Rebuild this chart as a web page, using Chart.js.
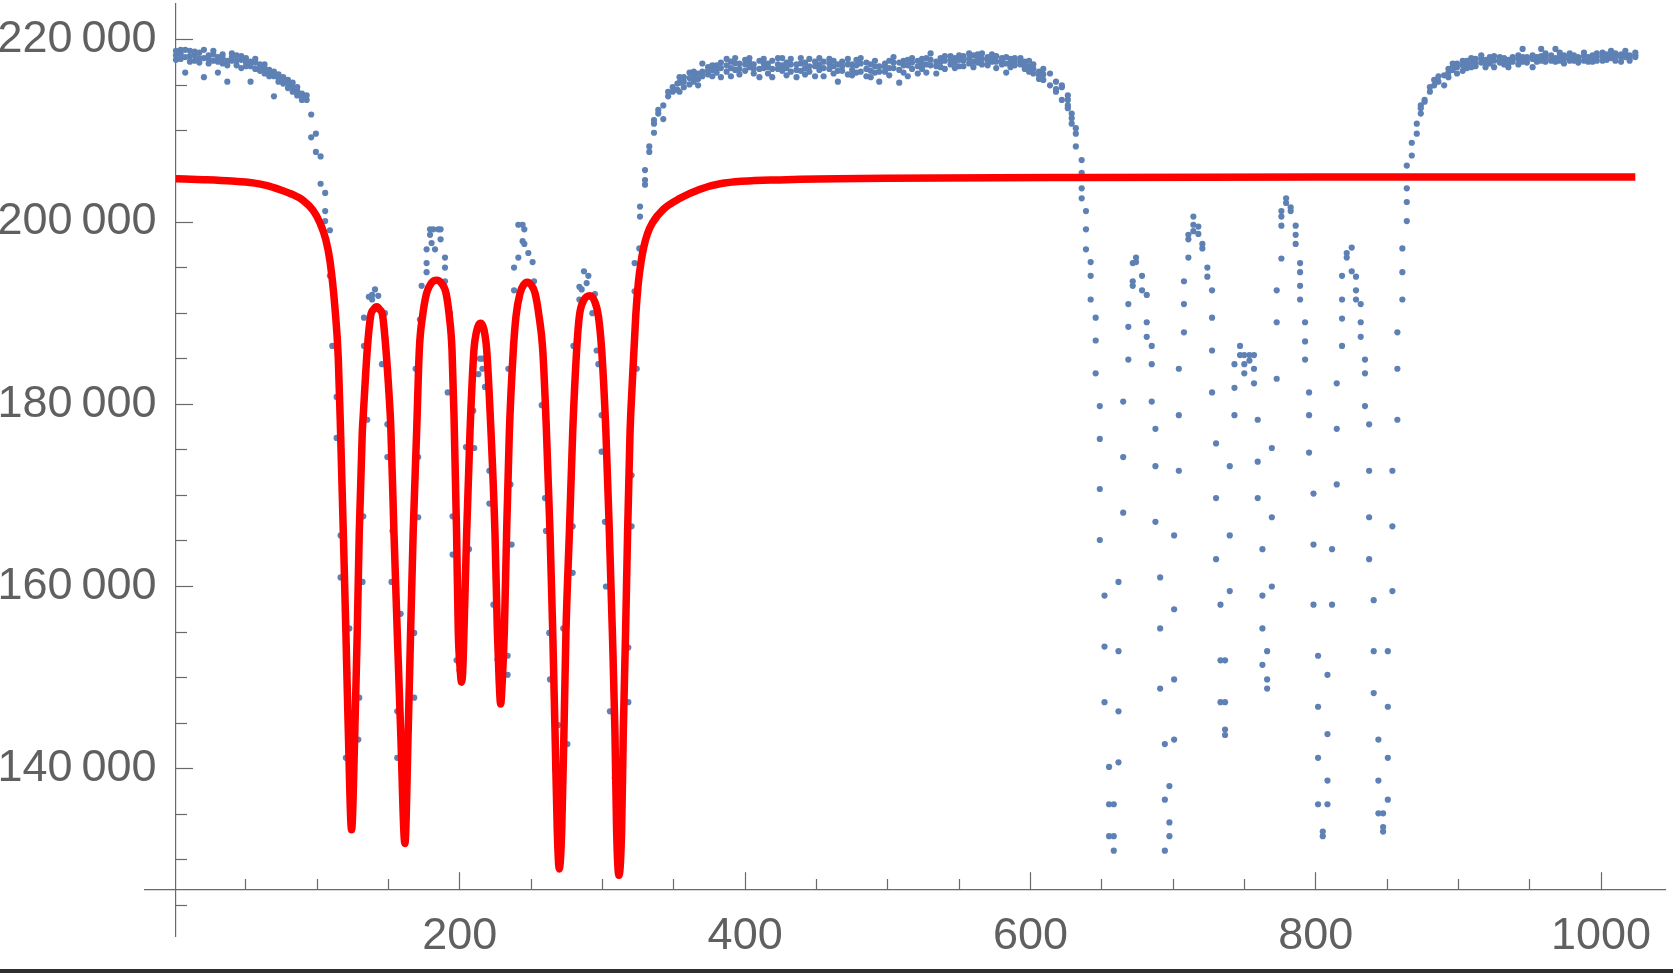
<!DOCTYPE html>
<html>
<head>
<meta charset="utf-8">
<script src="https://cdn.jsdelivr.net/npm/chart.js@4.4.1/dist/chart.umd.min.js"></script>
<style>
  html, body { margin: 0; padding: 0; background: #fff; }
  #wrap { position: relative; width: 1673px; height: 973px; overflow: hidden; }
  #bar { position: absolute; left: 0; bottom: 0; width: 1673px; height: 4px; background: #2f2f2f; }
</style>
</head>
<body>
<div id="wrap">
  <canvas id="plot" width="1673" height="973"></canvas>
  <div id="bar"></div>
</div>
<script>
// tick positions
const xTicks = [200, 400, 600, 800, 1000];
const xMinorTicks = [50, 100, 150, 250, 300, 350, 450, 500, 550, 650, 700, 750, 850, 900, 950];
const yTicks = [140000, 160000, 180000, 200000, 220000];
const yMinorTicks = [125000, 130000, 135000, 145000, 150000, 155000, 165000, 170000, 175000,
                     185000, 190000, 195000, 205000, 210000, 215000];

// measured points, one column per x: [x, y, y, ...]
const scanLeft = [
  [1.0, 218300, 218800, 217800], [4.3, 218500, 217900, 218900], [7.5, 218900, 218100, 216400],
  [10.8, 218800, 218200, 217600], [14.1, 218300, 217700, 218700], [17.4, 218600, 217500, 218000],
  [20.6, 218900, 218000, 215900], [23.9, 218300, 217400, 217900], [27.2, 218400, 217700, 218800],
  [30.4, 218100, 216400, 217600], [33.7, 218000, 217400, 218400], [37.0, 217700, 215400, 217200],
  [40.2, 218500, 217700, 218100], [43.5, 218300, 217200, 217700], [46.8, 217800, 216900, 218200],
  [50.1, 218000, 217100, 217500], [53.3, 217600, 215400, 217100], [56.6, 217500, 216800, 217900],
  [59.9, 217300, 216600, 216900], [63.1, 216900, 216300, 217300], [66.4, 216700, 216000, 216400],
  [69.7, 216500, 213800, 216000], [72.9, 216200, 215400, 215800], [76.2, 215900, 215200, 215500],
  [79.5, 215600, 214700, 215200], [82.8, 215300, 214300, 214800], [86.0, 214800, 213900, 214400],
  [89.3, 214100, 213400, 213800], [92.6, 213400, 213900], [95.8, 211800, 209300], [99.1, 209700, 207700],
  [102.4, 207200, 204200], [105.6, 203200, 201200, 200100], [108.9, 199100, 194100]
];

const dipsLeft = [
  [110.6, 186400], [113.6, 180800, 176300], [116.4, 165600, 161000], [120.1, 141200], [121.2, 150500],
  [122.5, 155400], [123.4, 137500], [124.4, 133800], [125.6, 139000], [128.8, 143200], [129.5, 147800],
  [131.8, 160500], [132.3, 167700], [132.8, 186400, 189500], [135.1, 178300], [136.2, 191800],
  [138.5, 191500, 192000], [140.5, 192600], [142.8, 191900], [145.4, 184400], [147.5, 190000],
  [149.2, 177800, 174200], [152.1, 160500], [152.8, 166100], [156.1, 146300, 141200], [158.5, 157000],
  [159.6, 137000], [161.3, 132300], [163.5, 141000], [168.0, 154900, 147800], [169.0, 183900],
  [170.8, 167600, 174200], [172.0, 189300], [173.2, 193000], [176.7, 194500, 195500, 197000],
  [179.1, 199200, 198600], [180.2, 197700], [181.4, 199200], [182.6, 197000], [184.9, 199200],
  [186.5, 199200, 198100], [189.6, 196100, 195000, 193500], [191.5, 181300], [193.1, 190000],
  [194.9, 167700, 163500], [197.7, 151900], [199.8, 150800], [202.6, 153500], [204.3, 175300],
  [206.4, 164100], [209.4, 179300], [210.1, 175200], [213.0, 183300], [214.1, 185000],
  [215.8, 183900, 185000], [217.6, 181900], [220.7, 172700, 169100], [223.5, 158000], [226.4, 152000],
  [228.6, 147800], [230.4, 151500], [233.5, 152400, 150300], [234.0, 183900], [235.5, 171200],
  [236.3, 164600], [238.0, 192500, 195000], [241.0, 199700, 196100], [244.0, 199700, 197900],
  [245.2, 199200, 197600], [248.0, 196600], [251.0, 195600], [252.0, 193500], [257.4, 179900],
  [259.7, 169700], [260.4, 166100], [262.7, 154900], [263.2, 149800], [266.7, 140000], [268.6, 131500],
  [269.0, 144800], [271.6, 135500], [272.5, 155400], [275.4, 142700], [279.1, 166600, 161500],
  [279.6, 186400], [283.8, 191500, 192900], [285.4, 192600], [287.0, 194600], [288.9, 193300],
  [290.1, 194100], [292.9, 190000], [294.7, 192100], [295.9, 185900], [297.1, 184400],
  [299.4, 178800, 174800], [301.7, 167100], [302.4, 160000], [305.2, 146300], [308.6, 139000],
  [311.5, 129000], [313.8, 137500], [318.1, 153300, 147300], [320.4, 166600, 172200],
  [322.5, 192400, 195500], [324.0, 183900], [325.8, 197100], [326.3, 200600, 201700],
  [329.8, 204100, 204600, 205700], [332.8, 207700, 208300], [336.1, 209800, 210800, 211200],
  [339.1, 211900, 212300], [342.6, 211300, 212800], [346.0, 213800, 214300], [349.2, 214300, 214800],
  [352.5, 214500, 215200]
];

const plateau = [
  [354, 215900, 214300, 215300], [357, 215900, 214800, 215400], [361, 216400, 215100, 215800],
  [364, 216500, 215400, 216000], [367, 216300, 215000, 215700], [370, 217400, 216500, 216000],
  [374, 217000, 216200, 216600], [377, 216700, 216000, 217200], [380, 217200, 216400, 216800],
  [383, 217500, 215900, 216900], [387, 217900, 216500, 217200], [390, 217600, 216900, 216000],
  [393, 218000, 216700, 217400], [396, 217400, 216200, 216800], [400, 217800, 216600, 217300],
  [403, 218000, 217000, 217500], [406, 217300, 216300, 216800], [410, 217700, 216800, 215900],
  [413, 217900, 216900, 217400], [416, 217400, 216300, 217000], [419, 217700, 215900, 216800],
  [423, 218000, 216800, 217300], [426, 218000, 217200, 216600], [429, 217500, 216100, 216900],
  [432, 217900, 216500, 217300], [436, 217300, 215900, 216700], [439, 218000, 216600, 217400],
  [442, 217500, 216200, 216900], [445, 217900, 217100, 216500], [449, 217600, 216000, 217100],
  [452, 218000, 216700, 217300], [455, 217600, 216000, 216900], [459, 217900, 216800, 217400],
  [462, 217700, 216300, 217100], [465, 217300, 215400, 216600], [468, 217600, 216600, 217100],
  [472, 217900, 216200, 217300], [475, 217300, 216700, 216100], [478, 217800, 216400, 217200],
  [481, 218000, 216500, 217400], [485, 217500, 216000, 216800], [488, 217300, 215900, 216600],
  [491, 217700, 216400, 217100], [494, 217100, 215400, 216500], [498, 217400, 216500, 217000],
  [501, 217700, 216100, 216900], [504, 218100, 216900, 217500], [508, 217500, 215300, 216700],
  [511, 217200, 216400, 217700], [514, 217800, 216000, 217200], [517, 217500, 216800, 218000],
  [521, 217700, 216300, 217100], [524, 217900, 216800, 217400], [527, 218000, 216400, 217300],
  [530, 218500, 217200, 217800], [534, 217600, 216300, 217100], [537, 218000, 217000, 217600],
  [540, 217700, 216800, 218200], [544, 218200, 217300, 217800], [547, 218000, 216900, 217500],
  [550, 217800, 217100, 218300], [553, 218200, 217100, 217700], [557, 218500, 217400, 217900],
  [560, 218300, 217000, 217600], [563, 218000, 217500, 218400], [566, 218500, 217300, 217900],
  [570, 218100, 217200, 217700], [573, 218400, 217600, 218000], [576, 218200, 216900, 217600],
  [580, 218000, 217300, 217700], [583, 218100, 216400, 217400], [586, 217900, 217000, 217500],
  [589, 218000, 217200, 217600], [593, 218000, 217300, 217700], [596, 217600, 216800, 217200],
  [599, 217700, 216500, 217100], [602, 217300, 216300, 216800], [606, 216500, 215700, 216100],
  [609, 216800, 215600, 216200]
];

const dipsRight = [
  [613.7, 216300, 215000], [617.9, 215400, 214600, 214300], [622.0, 215000, 214800, 213400],
  [626.2, 213900, 213400, 212800, 212500], [628.9, 211900, 211400, 210800], [631.8, 210300, 209700, 208300],
  [635.9, 206800, 205400, 203700, 202600], [638.9, 201200, 199200, 197000], [642.2, 195600, 194100, 191500],
  [645.7, 189500, 187000, 183400], [648.6, 179800, 176200, 170700, 165100], [651.9, 159000, 153400, 147300],
  [655.1, 140200, 136100, 132600], [658.4, 136100, 132600, 131000], [661.7, 140700, 146300, 152900, 160500],
  [665.0, 168100, 174200, 180300], [668.6, 184900, 188500, 191000], [671.7, 193000, 193500, 195500],
  [674.0, 195600, 196100], [678.2, 194100, 192500], [681.5, 192000, 189000, 187400],
  [685.0, 186400, 184400, 180300], [687.6, 177300, 173200, 167100], [690.9, 161000, 155400, 148800],
  [694.2, 142700, 136600, 131000], [697.4, 138100, 134100, 132600], [700.7, 143200, 149800, 157500, 165600],
  [704.0, 172700, 178800, 183900], [707.6, 187900, 191000, 193500], [710.7, 196100, 198100, 198600],
  [714.2, 200600, 199700, 199000], [717.7, 199500, 198700], [720.5, 197600, 197100], [724.0, 195000, 194000],
  [727.3, 192500, 189500, 185900, 181300], [730.1, 175700, 169700, 163000], [733.2, 158000, 151900, 147300],
  [736.4, 151900, 147300, 144300, 143700], [739.7, 159500, 165600, 173200], [743.0, 178800, 181800, 184400],
  [746.9, 186400, 185400], [749.9, 185400, 184400, 183400], [753.5, 185400, 184800],
  [756.7, 185400, 183900, 182300], [759.3, 178300, 173700, 169700], [762.6, 164100, 159000, 155400, 151400],
  [765.9, 152900, 149800, 148800], [769.2, 160000, 167600, 175200], [772.6, 182800, 189000, 192500],
  [775.9, 196000, 199600, 200600, 201200], [779.2, 202600, 202100], [782.4, 201600, 201200],
  [785.9, 199600, 198600, 197600], [789.0, 195500, 194500, 193000, 191500], [792.5, 189000, 186900, 184900],
  [795.3, 181300, 178800, 174700], [798.4, 170200, 164600, 158000], [801.6, 152400, 146800, 141200, 136100],
  [804.9, 133100, 132600], [808.2, 136100, 138700, 143800, 150300], [811.4, 158000, 164100],
  [814.7, 171200, 177300, 182300], [818.4, 186400, 189400, 191500, 194100], [821.7, 196100, 196600],
  [825.2, 197200, 194600], [828.2, 194000, 192500, 191500], [831.5, 191000, 189000, 187400],
  [834.5, 184900, 183400, 179800], [837.4, 177800, 172700, 167600, 163000], [840.6, 158500, 152900, 148300],
  [843.9, 143200, 138700, 135100], [847.2, 135100, 133600, 133100], [850.5, 136600, 141200, 146800, 152900],
  [853.7, 159500, 166600, 172700], [857.2, 178300, 183900, 187900], [860.7, 191500, 194500, 197100],
  [863.8, 200100, 202200, 203700, 206200], [867.3, 207300, 208700], [870.8, 209700, 210800],
  [873.6, 211900, 212500, 212800], [876.3, 213200, 213400], [880.0, 214300, 214800]
];

const scanRight = [
  [883, 215000, 215600], [886, 215400, 216000], [890, 216100, 215000], [893, 216400, 215900, 216800],
  [896, 217400, 216700, 217000], [899, 216300, 217000, 217400], [903, 217200, 216600, 217700],
  [906, 217200, 217700, 216900], [909, 217000, 217600, 218000], [912, 217400, 217900, 217100],
  [916, 218300, 217500, 217900], [919, 217000, 217800, 217400], [922, 218100, 217400, 217700],
  [925, 217000, 217700, 218200], [929, 218100, 217500, 217800], [932, 217600, 218000, 217300],
  [935, 217000, 217800, 217400], [938, 218100, 217600, 217900], [942, 217900, 217300, 218300],
  [945, 219000, 218100, 217600], [948, 218100, 217500, 217800], [952, 217000, 217900, 218300],
  [955, 218100, 217600, 217900], [958, 219000, 218200, 217700], [961, 218100, 217600, 218500],
  [965, 217700, 218300, 217900], [968, 219000, 218000, 217600], [971, 217700, 218200, 218600],
  [974, 217900, 217400, 218300], [978, 218100, 217700, 218500], [981, 217700, 218300, 218000],
  [984, 218100, 217500, 217800], [988, 217700, 218200, 218600], [991, 218100, 217600, 217900],
  [994, 217600, 218300, 218000], [997, 218100, 217700, 218500], [1001, 217700, 218200, 218600],
  [1004, 218400, 217800, 218100], [1007, 218800, 218000, 218400], [1010, 218500, 217700, 218100],
  [1014, 218100, 217600, 218400], [1017, 218800, 218100, 218400], [1020, 218300, 217700, 218000],
  [1024, 218100, 218600, 218300]
];

// fitted curve
const fitX = [1, 20, 40, 55, 65, 74, 83, 90, 97, 102, 106, 109, 112.5, 114.8, 116.4, 118.3, 120.1, 121.8,
  124.1, 126.4, 128.1, 129.5, 131.6, 132.3, 135.1, 137.5, 139.5, 141.7, 143.8, 145.9, 148.2, 150.4, 151.6,
  153.8, 156.1, 158.5, 161.5, 163.8, 165.5, 167.3, 169.7, 171.6, 173.9, 176.7, 180, 183.7, 187, 190.3,
  192.6, 194.5, 195.9, 197.7, 198.9, 200.2, 201.2, 202.1, 202.9, 204.8, 207.1, 209.9, 211.6, 213.1,
  214.6, 216.1, 217.5, 218.8, 221.6, 224.6, 226.3, 227.6, 228.6, 229.7, 231.2, 232.8, 234.7, 237.5,
  239.4, 242.2, 244.7, 247.3, 250, 252.7, 255.5, 258.1, 260.6, 263.2, 265.1, 266.7, 268.3, 269.7, 271.4,
  273, 274.4, 276.8, 279.1, 281.9, 283.8, 286.5, 291.2, 294.5, 297.1, 299.4, 302.4, 304.8, 306.9, 308.7,
  309.9, 311.5, 313.4, 314.6, 316.2, 317.6, 319.3, 320.9, 323.3, 325.1, 327, 329, 331.5, 335, 342.7,
  354.3, 368.4, 382.4, 429, 499, 640, 800, 1024];
const fitY = [204750, 204650, 204500, 204300, 204000, 203550, 203000, 202400, 201300, 199900, 198100,
  195700, 190500, 185000, 176900, 166000, 155100, 144200, 133300, 144200, 155100, 166000, 176900, 178800,
  186000, 189700, 190400, 190700, 190400, 189700, 186000, 181000, 177500, 166000, 155100, 144200, 131800,
  144200, 155100, 166000, 176900, 186000, 189700, 192200, 193300, 193600, 193300, 192200, 189700, 186000,
  178800, 166000, 155100, 151000, 149500, 151000, 155100, 166000, 176900, 186000, 187900, 188700, 188900,
  188600, 187700, 186000, 177800, 166000, 155100, 149500, 147100, 149500, 155100, 166000, 176900, 186000,
  189700, 192200, 193100, 193400, 193100, 192200, 189700, 186000, 177500, 166000, 155100, 144200, 133200,
  129000, 133200, 144200, 155100, 166000, 176900, 186000, 189700, 191300, 191900, 191300, 189700, 186000,
  176900, 166000, 155100, 144200, 133200, 128300, 133200, 144200, 155100, 166000, 176900, 182400, 189700,
  193300, 195600, 197300, 198700, 199900, 201400, 202600, 203600, 204200, 204650, 204800, 204900, 204930,
  204950];

// plot frame
const X_MIN = -20.7, X_MAX = 1044.8;
const Y_MIN = 121640, Y_MAX = 223930;
const X_CROSS = 1, Y_CROSS = 126720;
const X_LABEL_EDGE = -12.6;

const AXIS_GRAY = '#6a6a6a';
const LABEL_GRAY = '#606060';
const LABEL_FONT = { family: "'Liberation Sans', Arial, sans-serif", size: 45 };

function spread(cols) {
  const pts = [];
  cols.forEach(c => {
    for (let i = 1; i < c.length; i++) pts.push({ x: c[0], y: c[i] });
  });
  return pts;
}

function fixTicks(values) {
  return scale => { scale.ticks = values.map(v => ({ value: v })); };
}

function noPadding(scale) {
  scale.paddingLeft = 0;
  scale.paddingRight = 0;
  scale.paddingTop = 0;
  scale.paddingBottom = 0;
}

function groupThousands(v) {
  const s = String(v);
  return s.slice(0, -3) + '\u2009' + s.slice(-3);
}

const bluePoints = [scanLeft, dipsLeft, plateau, dipsRight, scanRight].flatMap(spread);
const fitPoints = fitX.map((x, i) => ({ x: x, y: fitY[i] }));

const tickGrid = len => ({
  display: true,
  drawOnChartArea: false,
  drawTicks: true,
  tickLength: len,
  tickColor: AXIS_GRAY,
  tickWidth: 1.2
});

new Chart(document.getElementById('plot'), {
  type: 'scatter',
  data: {
    datasets: [
      {
        label: 'fit',
        data: fitPoints,
        showLine: true,
        borderColor: '#ff0000',
        borderWidth: 7.5,
        borderJoinStyle: 'bevel',
        cubicInterpolationMode: 'monotone',
        pointRadius: 0,
        xAxisID: 'x',
        yAxisID: 'y',
        order: 0
      },
      {
        label: 'data',
        data: bluePoints,
        showLine: false,
        pointRadius: 3.1,
        pointBorderWidth: 0,
        pointBackgroundColor: '#5e81b5',
        xAxisID: 'x',
        yAxisID: 'y',
        order: 1
      }
    ]
  },
  options: {
    responsive: false,
    animation: false,
    events: [],
    layout: { padding: { left: 145, right: 8, top: 0, bottom: 37 } },
    plugins: { legend: { display: false }, tooltip: { enabled: false } },
    scales: {
      x: {
        axis: 'x', type: 'linear', min: X_MIN, max: X_MAX,
        position: { y: Y_CROSS },
        border: { display: true, color: AXIS_GRAY, width: 1.2 },
        grid: tickGrid(-18),
        ticks: { padding: 38, color: LABEL_GRAY, font: LABEL_FONT, autoSkip: false, maxRotation: 0,
                 callback: v => String(v) },
        afterBuildTicks: fixTicks(xTicks),
        afterFit: noPadding
      },
      xMinor: {
        axis: 'x', type: 'linear', min: X_MIN, max: X_MAX,
        position: { y: Y_CROSS },
        border: { display: false },
        grid: tickGrid(-11),
        ticks: { display: false },
        afterBuildTicks: fixTicks(xMinorTicks),
        afterFit: noPadding
      },
      y: {
        axis: 'y', type: 'linear', min: Y_MIN, max: Y_MAX,
        position: { x: X_CROSS },
        border: { display: true, color: AXIS_GRAY, width: 1.2 },
        grid: tickGrid(-18),
        ticks: { display: false },
        afterBuildTicks: fixTicks(yTicks),
        afterFit: noPadding
      },
      yMinor: {
        axis: 'y', type: 'linear', min: Y_MIN, max: Y_MAX,
        position: { x: X_CROSS },
        border: { display: false },
        grid: tickGrid(-11),
        ticks: { display: false },
        afterBuildTicks: fixTicks(yMinorTicks),
        afterFit: noPadding
      },
      yLabels: {
        axis: 'y', type: 'linear', min: Y_MIN, max: Y_MAX,
        position: { x: X_LABEL_EDGE },
        border: { display: false },
        grid: { display: false },
        ticks: { padding: 0, color: LABEL_GRAY, font: LABEL_FONT, autoSkip: false,
                 callback: v => groupThousands(v) },
        afterBuildTicks: fixTicks(yTicks),
        afterFit: noPadding
      }
    }
  }
});
</script>
</body>
</html>
